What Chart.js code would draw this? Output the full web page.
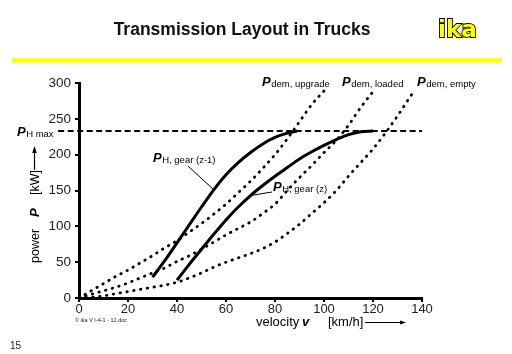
<!DOCTYPE html>
<html>
<head>
<meta charset="utf-8">
<script src="https://cdn.jsdelivr.net/npm/chart.js@4/dist/chart.umd.min.js"></script>
<style>
  body { margin: 0; background: #fff; }
  canvas { display: block; }
</style>
</head>
<body>
<canvas id="trucks" width="512" height="354"></canvas>
<script>
const FONT = "'Liberation Sans', Arial, sans-serif";

// tick labels
const speedTicks = [0, 20, 40, 60, 80, 100, 120, 140];
const powerTicks = [0, 50, 100, 150, 200, 250, 300];

// max engine power, kW
const PH_MAX = 233;
const phMaxSpan = [-8.5, 140];

// engine power in gear z-1 and gear z (speed km/h, power kW)
const gearZ1Speed = [30, 35, 40, 45, 50, 55, 60, 65, 70, 75, 80, 85, 89];
const gearZ1Power = [29, 52, 77, 102, 127, 151, 172, 189, 203, 215, 224, 230, 233];
const gearZSpeed = [40, 45, 50, 55, 60, 65, 70, 75, 80, 85, 90, 95, 100, 105, 110, 115, 120];
const gearZPower = [25, 47, 68, 89, 109, 127, 143, 157, 170, 182, 194, 204, 213, 221, 228, 232, 233];

// power demand
const upgradeSpeed = [0, 5, 10, 15, 20, 25, 30, 35, 40, 45, 50, 55, 60, 65, 70, 75, 80, 85, 90, 95, 100];
const upgradePower = [0, 10, 20, 30, 39, 49, 59, 70, 80, 92, 104, 117, 131, 147, 163, 181, 200, 222, 246, 270, 289];
const loadedSpeed = [0, 5, 10, 15, 20, 25, 30, 35, 40, 45, 50, 55, 60, 65, 70, 75, 80, 85, 90, 95, 100, 105, 110, 115, 120];
const loadedPower = [0, 5, 10, 15, 21, 28, 35, 42, 51, 59, 68, 78, 88, 97, 106, 118, 131, 150, 168, 185, 203, 220, 241, 266, 288];
const emptySpeed = [0, 5, 10, 15, 20, 25, 30, 35, 40, 45, 50, 55, 60, 65, 70, 75, 80, 85, 90, 95, 100, 105, 110, 115, 120, 125, 130, 135, 137];
const emptyPower = [0, 1, 3, 6, 9, 12, 15, 18, 22, 28, 35, 43, 50, 56, 62, 69, 78, 90, 103, 118, 133, 150, 170, 189, 208, 230, 254, 280, 290];

function pts(xs, ys) {
  return xs.map((x, i) => ({ x: x, y: ys[i] }));
}

const solid = { borderColor: "#000", borderWidth: 3, pointRadius: 0, cubicInterpolationMode: "monotone", clip: 4 };
const dotted = { borderColor: "#000", borderWidth: 2.8, borderDash: [0.5, 6.4], borderCapStyle: "round", pointRadius: 0, cubicInterpolationMode: "monotone", clip: 4 };

function pSub(ctx, x, y, sub) {
  ctx.textAlign = "left";
  ctx.textBaseline = "alphabetic";
  ctx.font = "italic bold 13px " + FONT;
  ctx.fillText("P", x, y);
  const w = ctx.measureText("P").width;
  ctx.font = "9.5px " + FONT;
  ctx.fillText(sub, x + w + 0.5, y + 1);
}

function line(ctx, x1, y1, x2, y2, w) {
  ctx.lineWidth = w;
  ctx.beginPath();
  ctx.moveTo(x1, y1);
  ctx.lineTo(x2, y2);
  ctx.stroke();
}

const decor = {
  id: "decor",
  beforeDraw(chart) {
    const ctx = chart.ctx;
    ctx.save();
    ctx.fillStyle = "#ffff1a";
    ctx.fillRect(12, 58, 490, 4.5);

    ctx.fillStyle = "#111";
    ctx.font = "bold 17.5px " + FONT;
    ctx.textAlign = "center";
    ctx.fillText("Transmission Layout in Trucks", 242, 35);

    // logo
    ctx.font = "bold 23px 'DejaVu Sans', sans-serif";
    ctx.textAlign = "left";
    ctx.lineWidth = 1.8;
    ctx.strokeStyle = "#000";
    ctx.fillStyle = "#ffff00";
    ctx.strokeText("ika", 438, 37);
    ctx.fillText("ika", 438, 37);

    ctx.fillStyle = "#222";
    ctx.font = "10px " + FONT;
    ctx.fillText("15", 10, 349);
    ctx.font = "5.5px " + FONT;
    ctx.fillText("\u00a9 ika V I-4-1 - 12.doc", 75, 322);
    ctx.restore();
  },
  afterDraw(chart) {
    const ctx = chart.ctx;
    const xs = chart.scales.x;
    const ys = chart.scales.y;
    ctx.save();
    ctx.fillStyle = "#000";
    ctx.strokeStyle = "#000";

    pSub(ctx, 17, 136, "H max");
    pSub(ctx, 262, 86, "dem, upgrade");
    pSub(ctx, 342, 86, "dem, loaded");
    pSub(ctx, 417, 86, "dem, empty");
    pSub(ctx, 153, 162, "H, gear (z-1)");
    pSub(ctx, 273, 191, "H, gear (z)");

    // leader lines to the curves
    line(ctx, 188, 166, xs.getPixelForValue(gearZ1Speed[5]), ys.getPixelForValue(gearZ1Power[5]), 1);
    line(ctx, 272, 192, xs.getPixelForValue(gearZSpeed[6]), ys.getPixelForValue(gearZPower[6]), 1);

    // x axis title
    ctx.font = "13px " + FONT;
    ctx.fillText("velocity", 256, 326);
    ctx.font = "italic bold 13px " + FONT;
    ctx.fillText("v", 302, 326);
    ctx.font = "13px " + FONT;
    ctx.fillText("[km/h]", 328, 326);
    line(ctx, 365, 322.5, 401, 322.5, 1);
    ctx.beginPath();
    ctx.moveTo(406, 322.5);
    ctx.lineTo(400, 320.5);
    ctx.lineTo(400, 324.5);
    ctx.closePath();
    ctx.fill();

    // y axis title
    ctx.translate(38.5, 263);
    ctx.rotate(-Math.PI / 2);
    ctx.font = "12.5px " + FONT;
    ctx.fillText("power", 0, 0);
    ctx.font = "italic bold 13px " + FONT;
    ctx.fillText("P", 46, 0);
    ctx.font = "12.5px " + FONT;
    ctx.fillText("[kW]", 68, 0);
    const kw = 68 + ctx.measureText("[kW]").width;
    line(ctx, kw, -4, 112, -4, 1.2);
    ctx.beginPath();
    ctx.moveTo(117, -4);
    ctx.lineTo(110, -6.3);
    ctx.lineTo(110, -1.7);
    ctx.closePath();
    ctx.fill();
    ctx.restore();
  }
};

Chart.defaults.font.family = FONT;

new Chart(document.getElementById("trucks"), {
  type: "line",
  data: {
    datasets: [
      Object.assign({ data: pts(phMaxSpan, [PH_MAX, PH_MAX]) }, { borderColor: "#000", borderWidth: 2, borderDash: [6, 3.5], pointRadius: 0, clip: false }),
      Object.assign({ data: pts(gearZ1Speed, gearZ1Power) }, solid),
      Object.assign({ data: pts(gearZSpeed, gearZPower) }, solid),
      Object.assign({ data: pts(upgradeSpeed, upgradePower) }, dotted),
      Object.assign({ data: pts(loadedSpeed, loadedPower) }, dotted),
      Object.assign({ data: pts(emptySpeed, emptyPower) }, dotted),
    ],
  },
  options: {
    responsive: false,
    animation: false,
    layout: { padding: { left: 0, top: 83, right: 90, bottom: 0 } },
    plugins: { legend: { display: false }, tooltip: { enabled: false } },
    scales: {
      x: {
        type: "linear",
        min: speedTicks[0],
        max: speedTicks[speedTicks.length - 1],
        afterBuildTicks(s) { s.ticks = speedTicks.map((v) => ({ value: v })); },
        afterFit(s) { s.height = 56; },
        ticks: { color: "#222", font: { size: 13 }, padding: 0, maxRotation: 0 },
        grid: { drawOnChartArea: false, tickLength: 4, color: "#000", lineWidth: 2 },
        border: { color: "#000", width: 3 },
      },
      y: {
        min: powerTicks[0],
        max: powerTicks[powerTicks.length - 1],
        afterBuildTicks(s) { s.ticks = powerTicks.map((v) => ({ value: v })); },
        afterFit(s) { s.width = 79; },
        ticks: { color: "#222", font: { size: 13.5 }, padding: 4 },
        grid: { drawOnChartArea: false, tickLength: 4, color: "#000", lineWidth: 2 },
        border: { color: "#000", width: 3 },
      },
    },
  },
  plugins: [decor],
});
</script>
</body>
</html>
